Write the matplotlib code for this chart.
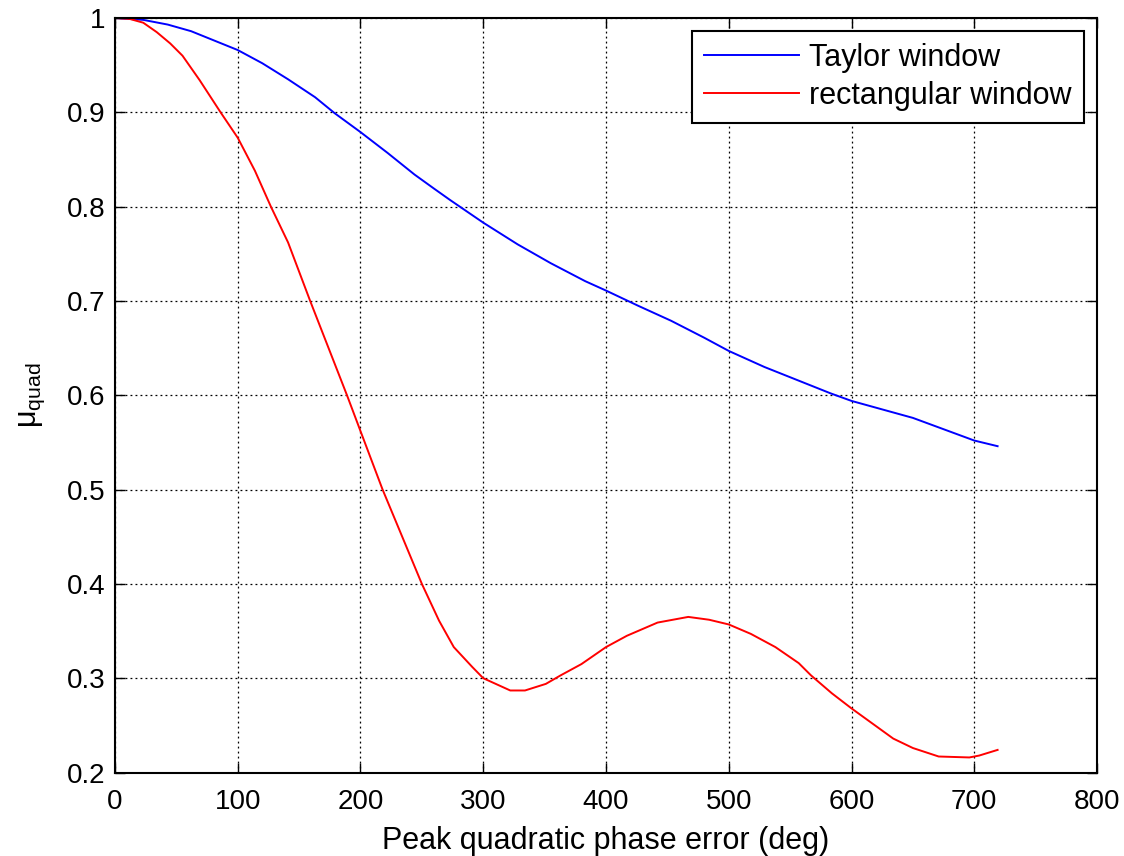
import matplotlib
matplotlib.use("Agg")
import matplotlib.pyplot as plt

# Values
taylor_x = [0, 23, 43, 62, 81, 100, 120, 141, 163, 179, 200, 222, 244, 260, 273,
            300, 328, 355, 383, 400, 426, 453, 480, 500, 529, 556, 583, 600, 650, 700, 719]
taylor_y = [1.0, 0.998, 0.993, 0.986, 0.976, 0.966, 0.952, 0.935, 0.916, 0.899, 0.879,
            0.857, 0.834, 0.819, 0.807, 0.783, 0.760, 0.740, 0.721, 0.711, 0.695, 0.679,
            0.661, 0.647, 0.630, 0.616, 0.602, 0.594, 0.576, 0.552, 0.546]

rect_x = [0, 12, 23, 34, 45, 55, 69, 86, 100, 114, 127, 141, 159, 177, 189, 200,
          218, 250, 264, 276, 291, 300, 322, 334, 351, 363, 380, 400, 417, 442, 467,
          484, 500, 518, 538, 557, 567, 584, 600, 617, 634, 650, 671, 696, 704, 719]
rect_y = [1.0, 0.999, 0.995, 0.985, 0.973, 0.960, 0.934, 0.900, 0.873, 0.838, 0.800,
          0.762, 0.700, 0.640, 0.600, 0.562, 0.500, 0.400, 0.361, 0.333, 0.312,
          0.300, 0.287, 0.287, 0.294, 0.303, 0.315, 0.333, 0.345, 0.359, 0.365, 0.362,
          0.357, 0.347, 0.333, 0.316, 0.303, 0.284, 0.268, 0.252, 0.236, 0.226, 0.217,
          0.216, 0.218, 0.224]

plt.rcParams['font.family'] = ['Liberation Sans', 'DejaVu Sans']
plt.rcParams['mathtext.default'] = 'regular'

fig = plt.figure(figsize=(11.24, 8.56), dpi=100)
ax = fig.add_axes([0.1023, 0.0975, 0.8737, 0.8815])

ax.plot(taylor_x, taylor_y, color='#0000ff', linewidth=1.4, label='Taylor window')
ax.plot(rect_x, rect_y, color='#ff0000', linewidth=1.4, label='rectangular window')

ax.set_xlim(0, 800)
ax.set_ylim(0.2, 1.0)
ax.set_xticks(range(0, 801, 100))
ax.set_yticks([0.2, 0.3, 0.4, 0.5, 0.6, 0.7, 0.8, 0.9, 1.0])
ax.set_yticklabels(['0.2', '0.3', '0.4', '0.5', '0.6', '0.7', '0.8', '0.9', '1'])

ax.grid(True, color='black', linestyle=(0, (1.5, 2.5)), linewidth=0.9)
ax.tick_params(direction='in', top=True, right=True, length=7, width=1,
               labelsize=20)
ax.tick_params(axis='x', pad=12)
ax.tick_params(axis='y', pad=7)
for s in ax.spines.values():
    s.set_linewidth(1.5)

ax.set_xlabel('Peak quadratic phase error (deg)', fontsize=22, labelpad=8)
ax.set_ylabel(r'$\mu_{quad}$', fontsize=22, labelpad=14)

leg = ax.legend(loc='upper right', fontsize=22, fancybox=False, framealpha=1,
                edgecolor='black', handlelength=3.1, borderaxespad=0.42,
                borderpad=0.4, labelspacing=0.25, handletextpad=0.35)
leg.get_frame().set_linewidth(1.5)

fig.savefig('out.png', dpi=100)
